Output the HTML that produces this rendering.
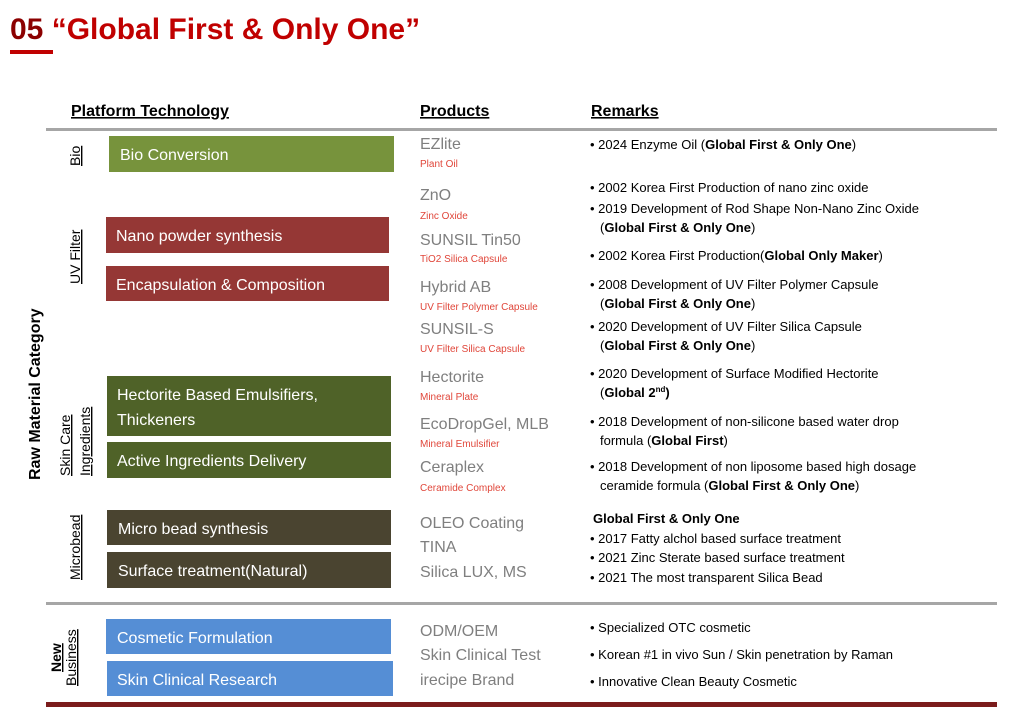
<!DOCTYPE html>
<html><head><meta charset="utf-8"><style>
html,body{margin:0;padding:0;background:#fff;width:1024px;height:707px;overflow:hidden}
svg{display:block;font-family:"Liberation Sans",sans-serif}
.bx{fill:#fff;font-size:16px}
.pr{fill:#7f7f7f;font-size:16px}
.ps{fill:#e0463a;font-size:10px}
.rm{fill:#000;font-size:13px}
.vl{font-size:14px;fill:#000;text-decoration:underline}
</style></head><body>
<svg width="1024" height="707" viewBox="0 0 1024 707">
<text x="10" y="39" font-size="30" font-weight="bold" fill="#8b0000">05 <tspan fill="#c00000">“Global First &amp; Only One”</tspan></text>
<rect x="10" y="50" width="43" height="4" fill="#c00000"/>
<g font-size="16" font-weight="bold" fill="#000" text-decoration="underline">
<text x="71" y="116">Platform Technology</text>
<text x="420" y="116">Products</text>
<text x="591" y="116">Remarks</text>
</g>
<rect x="46" y="128" width="951" height="3" fill="#a6a6a6"/>
<rect x="46" y="602" width="951" height="3" fill="#a6a6a6"/>
<rect x="46" y="702" width="951" height="5" fill="#7b1c1c"/>
<rect x="109" y="136" width="285" height="36" fill="#77933c"/><text class="bx" x="120" y="160">Bio  Conversion</text>
<rect x="106" y="217" width="283" height="36" fill="#953735"/><text class="bx" x="116" y="241">Nano powder synthesis</text>
<rect x="106" y="266" width="283" height="35" fill="#953735"/><text class="bx" x="116" y="290">Encapsulation &amp; Composition</text>
<rect x="107" y="376" width="284" height="60" fill="#4f6228"/><text class="bx" x="117" y="400">Hectorite Based Emulsifiers,</text><text class="bx" x="117" y="425">Thickeners</text>
<rect x="107" y="442" width="284" height="36" fill="#4f6228"/><text class="bx" x="117" y="466">Active Ingredients Delivery</text>
<rect x="107" y="510" width="284" height="35" fill="#4a4430"/><text class="bx" x="118" y="534">Micro bead synthesis</text>
<rect x="107" y="552" width="284" height="36" fill="#4a4430"/><text class="bx" x="118" y="576">Surface treatment(Natural)</text>
<rect x="106" y="619" width="285" height="35" fill="#558ed5"/><text class="bx" x="117" y="643">Cosmetic Formulation</text>
<rect x="107" y="661" width="286" height="35" fill="#558ed5"/><text class="bx" x="117" y="685">Skin Clinical Research</text>
<text class="vl" transform="translate(80,166) rotate(-90)">Bio</text>
<text class="vl" transform="translate(80,284) rotate(-90)">UV Filter</text>
<text class="vl" transform="translate(70,476) rotate(-90)">Skin Care</text>
<text class="vl" transform="translate(90,476) rotate(-90)">Ingredients</text>
<text class="vl" transform="translate(80,580) rotate(-90)">Microbead</text>
<text class="vl" font-weight="bold" transform="translate(61,672) rotate(-90)">New</text>
<text class="vl" transform="translate(76,686) rotate(-90)">Business</text>
<text font-size="16" font-weight="bold" transform="translate(40,480) rotate(-90)">Raw Material  Category</text>
<text class="pr" x="420" y="149">EZlite</text><text class="ps" x="420" y="167">Plant Oil</text>
<text class="pr" x="420" y="200">ZnO</text><text class="ps" x="420" y="219">Zinc Oxide</text>
<text class="pr" x="420" y="245">SUNSIL Tin50</text><text class="ps" x="420" y="262">TiO2 Silica Capsule</text>
<text class="pr" x="420" y="292">Hybrid AB</text><text class="ps" x="420" y="310">UV Filter Polymer Capsule</text>
<text class="pr" x="420" y="334">SUNSIL-S</text><text class="ps" x="420" y="352">UV Filter Silica Capsule</text>
<text class="pr" x="420" y="382">Hectorite</text><text class="ps" x="420" y="400">Mineral Plate</text>
<text class="pr" x="420" y="429">EcoDropGel, MLB</text><text class="ps" x="420" y="447">Mineral Emulsifier</text>
<text class="pr" x="420" y="472">Ceraplex</text><text class="ps" x="420" y="491">Ceramide Complex</text>
<text class="pr" x="420" y="528">OLEO Coating</text>
<text class="pr" x="420" y="552">TINA</text>
<text class="pr" x="420" y="577">Silica LUX, MS</text>
<text class="pr" x="420" y="636">ODM/OEM</text>
<text class="pr" x="420" y="660">Skin Clinical Test</text>
<text class="pr" x="420" y="685">irecipe Brand</text>
<g class="rm">
<text class="rm" x="590" y="149">• 2024 Enzyme Oil (<tspan font-weight="bold">Global First &amp; Only One</tspan>)</text>
<text class="rm" x="590" y="192">• 2002 Korea First Production of nano zinc oxide</text>
<text class="rm" x="590" y="213">• 2019 Development of Rod Shape Non-Nano Zinc Oxide</text>
<text class="rm" x="600" y="232">(<tspan font-weight="bold">Global First &amp; Only One</tspan>)</text>
<text class="rm" x="590" y="260">• 2002 Korea First Production(<tspan font-weight="bold">Global Only Maker</tspan>)</text>
<text class="rm" x="590" y="289">• 2008 Development of UV Filter Polymer Capsule</text>
<text class="rm" x="600" y="308">(<tspan font-weight="bold">Global First &amp; Only One</tspan>)</text>
<text class="rm" x="590" y="331">• 2020 Development of UV Filter Silica Capsule</text>
<text class="rm" x="600" y="350">(<tspan font-weight="bold">Global First &amp; Only One</tspan>)</text>
<text class="rm" x="590" y="378">• 2020 Development of Surface Modified Hectorite</text>
<text class="rm" x="600" y="397">(<tspan font-weight="bold">Global 2<tspan font-size="8" dy="-5">nd</tspan><tspan dy="5">)</tspan></tspan></text>
<text class="rm" x="590" y="426">• 2018 Development of non-silicone based water drop</text>
<text class="rm" x="600" y="445">formula (<tspan font-weight="bold">Global First</tspan>)</text>
<text class="rm" x="590" y="471">• 2018 Development of non liposome based high dosage</text>
<text class="rm" x="600" y="490">ceramide formula (<tspan font-weight="bold">Global First &amp; Only One</tspan>)</text>
<text class="rm" x="593" y="523" font-weight="bold">Global First &amp; Only One</text>
<text class="rm" x="590" y="543">• 2017 Fatty alchol based surface treatment</text>
<text class="rm" x="590" y="562">• 2021 Zinc Sterate based surface treatment</text>
<text class="rm" x="590" y="582">• 2021 The most transparent Silica Bead</text>
<text class="rm" x="590" y="632">• Specialized OTC cosmetic</text>
<text class="rm" x="590" y="659">• Korean #1 in vivo Sun / Skin penetration by Raman</text>
<text class="rm" x="590" y="686">• Innovative Clean Beauty Cosmetic</text>
</g>
</svg>
</body></html>
